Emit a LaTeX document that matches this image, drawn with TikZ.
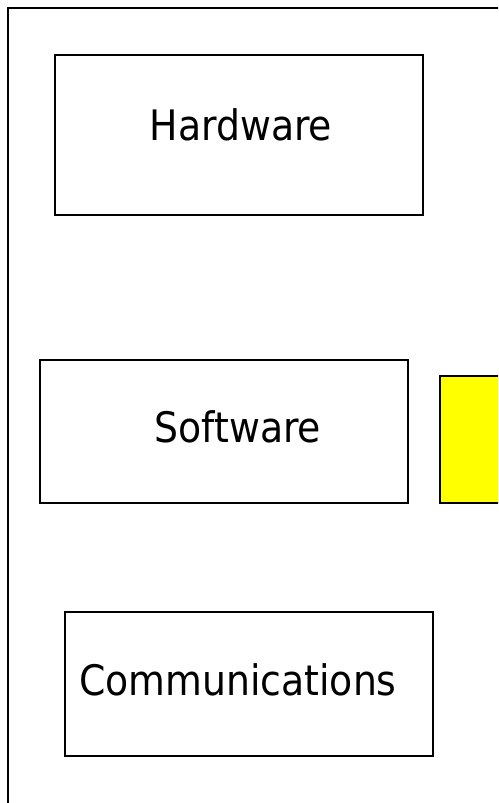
\documentclass[tikz,border=0pt]{standalone}
\usepackage{fontspec}
\newfontfamily\boxfont{DejaVu Sans Condensed}
\usepackage{tikz}
\usetikzlibrary{positioning}
\definecolor{markyellow}{RGB}{255,255,0}
\tikzset{
  frame/.style = {draw, rectangle, line width=2.5pt, fill=none},
  part/.style  = {draw, rectangle, line width=2.5pt,
                  inner sep=0pt, outer sep=0pt},
  lbl/.style   = {anchor=base, inner sep=0pt,
                  font=\boxfont\fontsize{42}{46}\selectfont},
  hilite/.style= {draw, rectangle, line width=2.5pt,
                  fill=markyellow, inner sep=0pt, outer sep=0pt},
}
\begin{document}
\begin{tikzpicture}[x=1pt, y=-1pt]

% ── page: 498 x 803, frame runs off right and bottom ────────
\clip (0,0) rectangle (498,803);

% ── outer frame ─────────────────────────────────────────────
\node[frame, minimum width=592pt, minimum height=892pt] (outer) at (304,454) {};

% ── component boxes (absolute coordinates) ──────────────────
%   labels sit on their baselines, not quite centred
\node[part, minimum width=368pt, minimum height=160pt] (hw) at (239,135) {};
\node[lbl] (hw-lbl) at (241,140) {Hardware};

\node[part, minimum width=368pt, minimum height=143pt] (sw) at (224,431.5) {};
\node[lbl] (sw-lbl) at (238,442) {Software};

\node[part, minimum width=368pt, minimum height=144pt] (comm) at (249,684) {};
\node[lbl] (comm-lbl) at (238,695) {Communications};

% ── yellow marker next to Software ──────────────────────────
\node[hilite, minimum width=100pt, minimum height=127pt] (mark) at (490,439.5) {};

\end{tikzpicture}
\end{document}
